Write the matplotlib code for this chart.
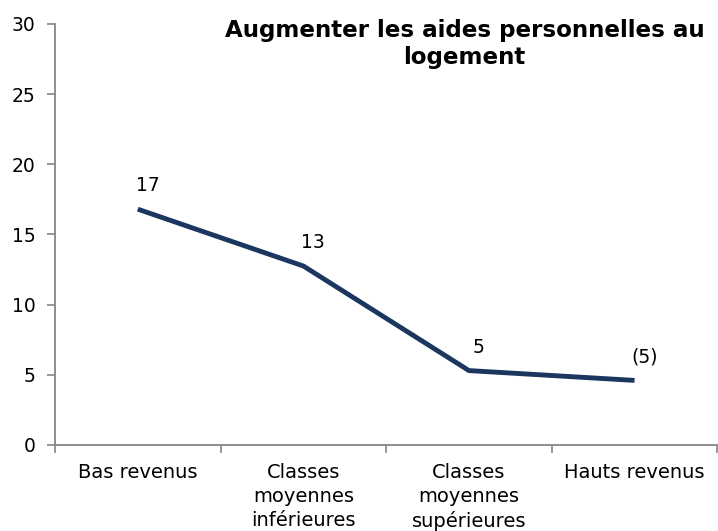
import matplotlib
matplotlib.use("Agg")
from matplotlib import pyplot as plt
import numpy as np

# donnees
categories = ["Bas revenus", "Classes\nmoyennes\ninférieures", "Classes\nmoyennes\nsupérieures", "Hauts revenus"]
valeurs = [16.8, 12.75, 5.3, 4.6]
etiquettes = ["17", "13", "5", "(5)"]
titre = "Augmenter les aides personnelles au\nlogement"

plt.rcParams['font.family'] = ['DejaVu Sans']
gris = "#868686"

fig = plt.figure(figsize=(7.18, 5.31), dpi=100)
ax = fig.add_axes([0.0766, 0.162, 0.9225, 0.793])

x = np.arange(len(categories))
ax.plot(x, valeurs, color="#1B365F", linewidth=3.5, solid_capstyle="butt", zorder=3)
for xi, v, lab in zip(x, valeurs, etiquettes):
    ax.annotate(lab, (xi, v), xytext=(7, 10), textcoords="offset points",
                ha="center", va="bottom", fontsize=13.5, color="black")

ax.set_xlim(-0.5, len(categories) - 0.5)
ax.set_ylim(0, 30)
ax.set_yticks(range(0, 31, 5))
ax.set_xticks(x)
ax.set_xticklabels(categories, fontsize=14, linespacing=1.32)
ax.set_xticks(np.arange(-0.5, len(categories), 1), minor=True)
ax.tick_params(axis="x", which="major", length=0, pad=13)
ax.tick_params(axis="x", which="minor", length=6, color=gris, width=1.2)
ax.tick_params(axis="y", labelsize=13.5, length=6, color=gris, width=1.2, pad=8)

for s in ["top", "right"]:
    ax.spines[s].set_visible(False)
for s in ["left", "bottom"]:
    ax.spines[s].set_color(gris)
    ax.spines[s].set_linewidth(1.3)

ax.text(0.618, 1.012, titre, transform=ax.transAxes, ha="center", va="top",
        fontsize=16.6, fontweight="bold", linespacing=1.22)

fig.savefig("out.png", dpi=100)
